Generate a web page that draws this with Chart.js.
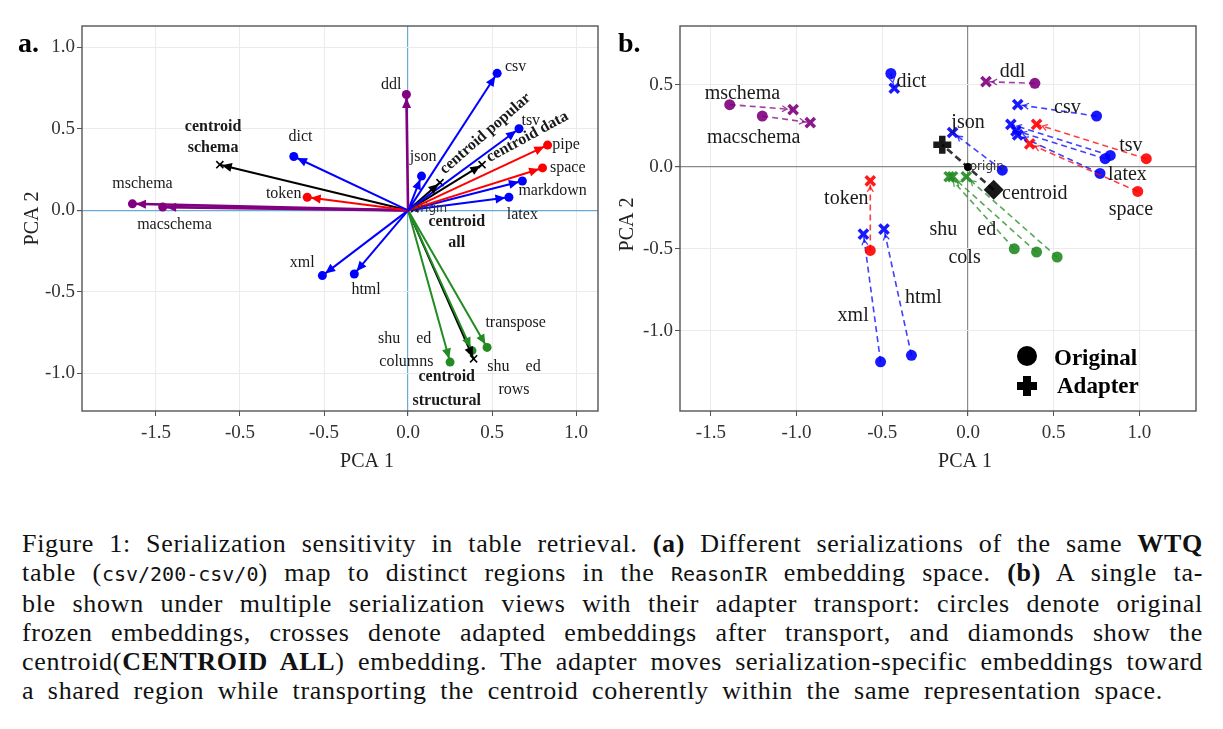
<!DOCTYPE html>
<html>
<head>
<meta charset="utf-8">
<script src="https://cdn.jsdelivr.net/npm/chart.js@4.4.1/dist/chart.umd.min.js"></script>
<style>
  body { margin: 0; background: #fff; width: 1223px; height: 729px; position: relative; overflow: hidden; }
  #wrapA { position: absolute; left: 0; top: 0; width: 610px; height: 480px; }
  #wrapB { position: absolute; left: 610px; top: 0; width: 613px; height: 480px; }
  #caption { position: absolute; left: 22px; top: 529px; width: 1181px; font-family: "Liberation Serif", serif; font-size: 26px; letter-spacing: 0.7px; line-height: 29px; color: #111; }
  .ln { text-align: justify; text-align-last: justify; }
  .ln.last { width: 1141px; }
  code { font-family: "DejaVu Sans Mono", monospace; font-size: 20px; letter-spacing: 0; }
</style>
</head>
<body>
<div id="wrapA"><canvas id="chartA" width="610" height="480"></canvas></div>
<div id="wrapB"><canvas id="chartB" width="613" height="480"></canvas></div>
<div id="caption">
  <div class="ln">Figure 1: Serialization sensitivity in table retrieval. <b>(a)</b> Different serializations of the same <b>WTQ</b></div>
  <div class="ln">table (<code>csv/200-csv/0</code>) map to distinct regions in the <code>ReasonIR</code> embedding space. <b>(b)</b> A single ta-</div>
  <div class="ln">ble shown under multiple serialization views with their adapter transport: circles denote original</div>
  <div class="ln">frozen embeddings, crosses denote adapted embeddings after transport, and diamonds show the</div>
  <div class="ln">centroid(<b>CENTROID ALL</b>) embedding. The adapter moves serialization-specific embeddings toward</div>
  <div class="ln last">a shared region while transporting the centroid coherently within the same representation space.</div>
</div>
<script>
// ---- panel a: serialization vectors from the origin ----
const namesA = ['csv', 'ddl', 'tsv', 'pipe', 'space', 'markdown', 'latex', 'json', 'dict', 'token',
  'mschema', 'macschema', 'xml', 'html', 'transpose', 'shuffled columns', 'shuffled rows'];
const groupA = ['blue', 'purple', 'blue', 'red', 'red', 'blue', 'blue', 'blue', 'blue', 'red',
  'purple', 'purple', 'blue', 'blue', 'green', 'green', 'green'];
const xA = [0.53, -0.01, 0.66, 0.83, 0.80, 0.68, 0.60, 0.08, -0.68, -0.60, -1.64, -1.46, -0.51, -0.32, 0.47, 0.25, 0.38];
const yA = [0.84, 0.71, 0.50, 0.40, 0.26, 0.18, 0.08, 0.21, 0.33, 0.08, 0.04, 0.02, -0.40, -0.39, -0.84, -0.93, -0.86];

const centroidNamesA = ['centroid schema', 'centroid popular', 'centroid data', 'centroid all', 'centroid structural'];
const centroidXA = [-1.12, 0.19, 0.44, 0.04, 0.39];
const centroidYA = [0.28, 0.17, 0.28, 0.01, -0.91];

// tick labels as printed in the figure
const xTickValsA = [-1.5, -1.0, -0.5, 0, 0.5, 1.0];
const xTickLabelsA = ['-1.5', '-0.5', '-0.5', '0.0', '0.5', '1.0'];
const yTickValsA = [-1.0, -0.5, 0, 0.5, 1.0];
const yTickLabelsA = ['-1.0', '-0.5', '0.0', '0.5', '1.0'];

// ---- panel b: original -> adapter embeddings ----
const namesB = ['mschema', 'macschema', 'dict', 'token', 'xml', 'html', 'ddl', 'csv', 'tsv', 'space',
  'markdown', 'pipe', 'latex', 'json', 'shuffled cols', 'shuffled rows', 'transpose'];
const groupB = ['purple', 'purple', 'blue', 'red', 'blue', 'blue', 'purple', 'blue', 'red', 'red',
  'blue', 'blue', 'blue', 'blue', 'green', 'green', 'green'];
const origXB = [-1.39, -1.20, -0.45, -0.57, -0.51, -0.33, 0.39, 0.75, 1.04, 0.99, 0.83, 0.80, 0.77, 0.20, 0.27, 0.40, 0.52];
const origYB = [0.38, 0.31, 0.57, -0.51, -1.19, -1.15, 0.51, 0.31, 0.05, -0.15, 0.07, 0.05, -0.04, -0.02, -0.50, -0.52, -0.55];
const adaptXB = [-1.02, -0.92, -0.43, -0.57, -0.61, -0.49, 0.105, 0.29, 0.40, 0.36, 0.25, 0.28, 0.29, -0.09, -0.11, -0.09, -0.01];
const adaptYB = [0.35, 0.27, 0.48, -0.085, -0.41, -0.38, 0.52, 0.38, 0.26, 0.14, 0.26, 0.22, 0.195, 0.21, -0.06, -0.06, -0.06];

// centroid: [original, adapter]
const centroidXB = [0.15, -0.15];
const centroidYB = [-0.14, 0.135];

const xTickValsB = [-1.5, -1.0, -0.5, 0, 0.5, 1.0];
const xTickLabelsB = ['-1.5', '-1.0', '-0.5', '0.0', '0.5', '1.0'];
const yTickValsB = [-1.0, -0.5, 0, 0.5];
const yTickLabelsB = ['-1.0', '-0.5', '0.0', '0.5'];

// text annotations (data coordinates)
const notesA = [
  { t: 'centroid', x: -1.16, y: 0.51, b: true }, { t: 'schema', x: -1.16, y: 0.38, b: true },
  { t: 'dict', x: -0.64, y: 0.45 }, { t: 'mschema', x: -1.58, y: 0.16 }, { t: 'macschema', x: -1.39, y: -0.09 },
  { t: 'token', x: -0.74, y: 0.10 }, { t: 'ddl', x: -0.10, y: 0.77 }, { t: 'csv', x: 0.64, y: 0.88 },
  { t: 'json', x: 0.09, y: 0.33 }, { t: 'tsv', x: 0.73, y: 0.55 }, { t: 'pipe', x: 0.94, y: 0.40 },
  { t: 'space', x: 0.95, y: 0.26 }, { t: 'markdown', x: 0.86, y: 0.12 }, { t: 'latex', x: 0.68, y: -0.03 },
  { t: 'origin', x: 0.13, y: 0.006, small: true },
  { t: 'centroid', x: 0.29, y: -0.07, b: true }, { t: 'all', x: 0.29, y: -0.20, b: true },
  { t: 'centroid popular', x: 0.46, y: 0.47, b: true, rot: -41 },
  { t: 'centroid data', x: 0.71, y: 0.45, b: true, rot: -28.5 },
  { t: 'xml', x: -0.63, y: -0.32 }, { t: 'html', x: -0.25, y: -0.49 }, { t: 'transpose', x: 0.64, y: -0.69 },
  { t: 'shu\u2003ed', x: -0.02, y: -0.79 }, { t: 'columns', x: -0.01, y: -0.93 },
  { t: 'centroid', x: 0.23, y: -1.02, b: true }, { t: 'structural', x: 0.23, y: -1.17, b: true },
  { t: 'shu\u2003ed', x: 0.63, y: -0.96 }, { t: 'rows', x: 0.63, y: -1.10 }
];
const notesB = [
  { t: 'mschema', x: -1.316, y: 0.445 }, { t: 'macschema', x: -1.25, y: 0.18 }, { t: 'dict', x: -0.33, y: 0.52 },
  { t: 'token', x: -0.71, y: -0.195 }, { t: 'xml', x: -0.67, y: -0.91 }, { t: 'html', x: -0.26, y: -0.80 },
  { t: 'ddl', x: 0.26, y: 0.58 }, { t: 'csv', x: 0.58, y: 0.36 }, { t: 'json', x: 0.0, y: 0.27 },
  { t: 'tsv', x: 0.95, y: 0.13 }, { t: 'latex', x: 0.93, y: -0.05 }, { t: 'space', x: 0.95, y: -0.26 },
  { t: 'centroid', x: 0.39, y: -0.165 }, { t: 'origin', x: 0.11, y: 0.0, small: true },
  { t: 'shu\u2003ed', x: -0.03, y: -0.385 }, { t: 'cols', x: -0.02, y: -0.555 }
];

const COL = { blue: '#0000ff', red: '#ff0000', purple: '#800080', green: '#228b22', black: '#000000' };
const SERIF = '"Liberation Serif", serif';

function rgba(hex, a) {
  const n = parseInt(hex.slice(1), 16);
  return `rgba(${n >> 16},${(n >> 8) & 255},${n & 255},${a})`;
}

// arrowheads at the end of two-point datasets
const arrowPlugin = {
  id: 'arrows',
  afterDatasetsDraw(chart) {
    const ctx = chart.ctx;
    chart.data.datasets.forEach((ds, i) => {
      if (!ds.arrow) return;
      const pts = chart.getDatasetMeta(i).data;
      const a = pts[0], b = pts[1];
      const ang = Math.atan2(b.y - a.y, b.x - a.x);
      const c = Math.cos(ang), s = Math.sin(ang);
      const { inset, len, half } = ds.arrow;
      const tx = b.x - inset * c, ty = b.y - inset * s;
      const lx = tx - len * c + half * s, ly = ty - len * s - half * c;
      const rx = tx - len * c - half * s, ry = ty - len * s + half * c;
      ctx.save();
      if (ds.arrow.open) {
        ctx.strokeStyle = ds.borderColor;
        ctx.lineWidth = 1.3;
        ctx.beginPath(); ctx.moveTo(lx, ly); ctx.lineTo(tx, ty); ctx.lineTo(rx, ry); ctx.stroke();
      } else {
        ctx.fillStyle = ds.borderColor;
        ctx.beginPath(); ctx.moveTo(tx, ty); ctx.lineTo(lx, ly); ctx.lineTo(rx, ry); ctx.closePath(); ctx.fill();
      }
      ctx.restore();
    });
  }
};

// labels, frame, axis titles, panel tag
function decorPlugin(notes, fontSize, tag, extra) {
  return {
    id: 'decor',
    afterDatasetsDraw(chart) {
      const { ctx, scales: { x, y } } = chart;
      ctx.save();
      ctx.textAlign = 'center';
      ctx.textBaseline = 'middle';
      notes.forEach(n => {
        ctx.save();
        ctx.fillStyle = n.small ? '#333' : '#1a1a1a';
        ctx.font = n.small ? `${fontSize.small}px "DejaVu Sans", sans-serif` : `${n.b ? 'bold ' : ''}${fontSize.label}px ${SERIF}`;
        ctx.translate(x.getPixelForValue(n.x), y.getPixelForValue(n.y));
        if (n.rot) ctx.rotate(n.rot * Math.PI / 180);
        ctx.fillText(n.t, 0, 0);
        ctx.restore();
      });
      ctx.restore();
      if (extra) extra(chart);
    },
    afterDraw(chart) {
      const { ctx, chartArea: ca } = chart;
      ctx.save();
      ctx.strokeStyle = '#555';
      ctx.lineWidth = 1.4;
      ctx.strokeRect(ca.left, ca.top, ca.right - ca.left, ca.bottom - ca.top);
      ctx.fillStyle = '#222';
      ctx.font = `20px ${SERIF}`;
      ctx.textAlign = 'center';
      ctx.textBaseline = 'middle';
      ctx.fillText('PCA 1', (ca.left + ca.right) / 2 + 27, 462);
      ctx.translate(tag.yTitleX, (ca.top + ca.bottom) / 2 + tag.yTitleDy);
      ctx.rotate(-Math.PI / 2);
      ctx.fillText('PCA 2', 0, 0);
      ctx.restore();
      ctx.save();
      ctx.fillStyle = '#000';
      ctx.font = `bold 28px ${SERIF}`;
      ctx.textBaseline = 'alphabetic';
      ctx.fillText(tag.text, tag.x, 52);
      ctx.restore();
    }
  };
}

function scaleOpts(min, max, vals, labels, zeroColor, isY, fitSize) {
  return {
    type: 'linear',
    min: min, max: max,
    afterBuildTicks: s => { s.ticks = vals.map(v => ({ value: v })); },
    afterFit: s => { if (isY) s.width = fitSize; else s.height = fitSize; },
    ticks: {
      callback: (v, i) => labels[i],
      font: { family: SERIF, size: 19 },
      color: '#333',
      padding: isY ? 2 : 6,
      maxRotation: 0,
      autoSkip: false
    },
    grid: {
      color: c => (c.tick && c.tick.value === 0 ? zeroColor : '#ebebeb'),
      lineWidth: c => (c.tick && c.tick.value === 0 ? 1.2 : 1),
      tickColor: '#555',
      tickLength: 5,
      drawTicks: true
    },
    border: { display: false }
  };
}

function baseOptions(xr, yr, xv, xl, yv, yl, zeroColor, padding, yWidth) {
  return {
    responsive: false,
    animation: false,
    devicePixelRatio: 1,
    layout: { padding: padding },
    plugins: { legend: { display: false }, tooltip: { enabled: false } },
    scales: {
      x: scaleOpts(xr[0], xr[1], xv, xl, zeroColor, false, 69),
      y: scaleOpts(yr[0], yr[1], yv, yl, zeroColor, true, yWidth)
    }
  };
}

// ---- build panel a ----
const datasetsA = namesA.map((n, i) => ({
  label: n,
  data: [{ x: 0, y: 0 }, { x: xA[i], y: yA[i] }],
  showLine: true,
  borderColor: COL[groupA[i]],
  borderWidth: groupA[i] === 'purple' ? 2.6 : 2,
  pointRadius: [0, 4.5],
  pointBackgroundColor: COL[groupA[i]],
  pointBorderWidth: 0,
  arrow: { inset: 3.5, len: 10, half: 4.5 }
}));
centroidNamesA.forEach((n, i) => {
  datasetsA.push({
    label: n,
    data: [{ x: 0, y: 0 }, { x: centroidXA[i], y: centroidYA[i] }],
    showLine: true,
    borderColor: '#000',
    borderWidth: 2,
    pointStyle: 'crossRot',
    pointRadius: [0, 5],
    pointBorderColor: '#000',
    pointBorderWidth: 1.6,
    arrow: n === 'centroid all' ? null : { inset: 2, len: 10, half: 4.5 }
  });
});

new Chart(document.getElementById('chartA'), {
  type: 'scatter',
  data: { datasets: datasetsA },
  options: baseOptions([-1.94, 1.13], [-1.23, 1.13], xTickValsA, xTickLabelsA, yTickValsA, yTickLabelsA,
    '#6aaad8', { top: 26, right: 12, left: 0, bottom: 0 }, 82),
  plugins: [arrowPlugin, decorPlugin(notesA, { label: 16, small: 12 }, { text: 'a.', x: 18, yTitleX: 33, yTitleDy: 0 })]
});

// ---- build panel b ----
const datasetsB = namesB.map((n, i) => ({
  label: n,
  data: [{ x: origXB[i], y: origYB[i] }, { x: adaptXB[i], y: adaptYB[i] }],
  showLine: true,
  borderColor: rgba(COL[groupB[i]], 0.75),
  borderWidth: 1.6,
  borderDash: [6, 4],
  pointStyle: ['circle', 'crossRot'],
  pointRadius: [5.5, 6.5],
  pointBackgroundColor: rgba(COL[groupB[i]], 0.9),
  pointBorderColor: rgba(COL[groupB[i]], 0.9),
  pointBorderWidth: [0, 3.5],
  arrow: { inset: 6, len: 5, half: 3, open: true }
}));
datasetsB.push({
  label: 'centroid',
  data: [{ x: centroidXB[0], y: centroidYB[0] }, { x: centroidXB[1], y: centroidYB[1] }],
  showLine: true,
  borderColor: 'rgba(0,0,0,0.8)',
  borderWidth: 2.6,
  borderDash: [7, 4],
  pointStyle: ['rectRot', 'cross'],
  pointRadius: [10, 9],
  pointBackgroundColor: 'rgba(0,0,0,0.9)',
  pointBorderColor: 'rgba(0,0,0,0.9)',
  pointBorderWidth: [0, 6.5]
});
datasetsB.push({
  label: 'origin',
  data: [{ x: 0, y: 0 }],
  pointRadius: 4,
  pointBackgroundColor: '#000',
  pointBorderWidth: 0
});

function legendB(chart) {
  const { ctx, chartArea: ca } = chart;
  const cx = ca.right - 169;
  ctx.save();
  ctx.fillStyle = '#000';
  ctx.beginPath();
  ctx.arc(cx, ca.bottom - 55, 10, 0, Math.PI * 2);
  ctx.fill();
  ctx.fillRect(cx - 10, ca.bottom - 29, 20, 8);
  ctx.fillRect(cx - 4, ca.bottom - 35, 8, 20);
  ctx.font = `bold 23px ${SERIF}`;
  ctx.textBaseline = 'alphabetic';
  ctx.fillText('Original', ca.right - 142, ca.bottom - 46);
  ctx.fillText('Adapter', ca.right - 139, ca.bottom - 18);
  ctx.restore();
}

new Chart(document.getElementById('chartB'), {
  type: 'scatter',
  data: { datasets: datasetsB },
  options: baseOptions([-1.68, 1.33], [-1.49, 0.86], xTickValsB, xTickLabelsB, yTickValsB, yTickLabelsB,
    '#8a8a8a', { top: 26, right: 27, left: 0, bottom: 0 }, 70),
  plugins: [arrowPlugin, decorPlugin(notesB, { label: 20, small: 12 }, { text: 'b.', x: 8, yTitleX: 18, yTitleDy: 6 }, legendB)]
});
</script>
</body>
</html>
